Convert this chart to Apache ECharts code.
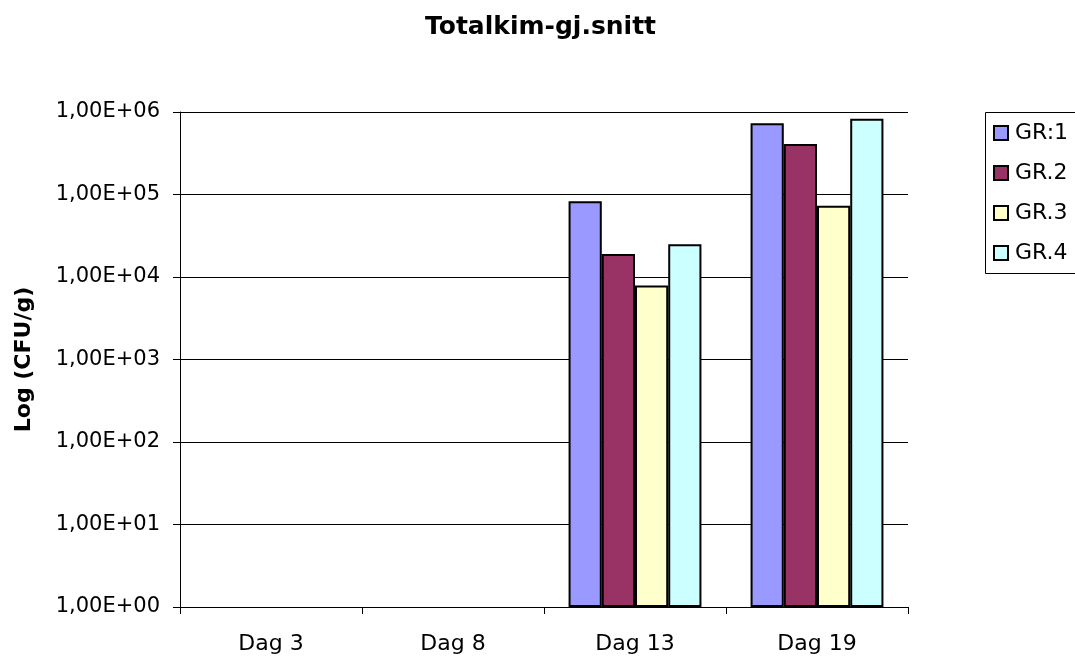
<!DOCTYPE html>
<html>
<head>
<meta charset="utf-8">
<script src="https://cdn.jsdelivr.net/npm/echarts@6/dist/echarts.min.js"></script>
<style>
  html, body { margin: 0; padding: 0; background: #fff; }
  #chart { width: 1075px; height: 656px; }
</style>
</head>
<body>
<div id="chart"></div>
<script>
// Sampling days on the x axis
const categories = ['Dag 3', 'Dag 8', 'Dag 13', 'Dag 19'];
// Mean total count (CFU/g) per group; no count on day 3 and 8
const gr1 = [null, null, 83000, 730000];
const gr2 = [null, null, 19000, 410000];
const gr3 = [null, null, 7900, 73000];
const gr4 = [null, null, 25000, 830000];
const seriesNames = ['GR:1', 'GR.2', 'GR.3', 'GR.4'];
const seriesColors = ['#9999FF', '#993366', '#FFFFCC', '#CCFFFF'];
const seriesData = [gr1, gr2, gr3, gr4];

// Excel-style scientific label, e.g. 1,00E+05
function sciLabel(v) {
  const e = Math.round(Math.log10(v));
  const sign = e < 0 ? '-' : '+';
  const abs = Math.abs(e);
  return '1,00E' + sign + (abs < 10 ? '0' : '') + abs;
}

const font = '"DejaVu Sans", Arial, sans-serif';
const chart = echarts.init(document.getElementById('chart'));
chart.setOption({
  animation: false,
  backgroundColor: '#ffffff',
  title: {
    text: 'Totalkim-gj.snitt',
    left: 425,
    top: 15,
    padding: 0,
    textStyle: { fontFamily: font, fontSize: 25, fontWeight: 'bold', color: '#000' }
  },
  // legend frame runs past the right edge of the canvas
  graphic: [{
    type: 'rect',
    shape: { x: 985.5, y: 112.5, width: 140, height: 161 },
    style: { fill: 'none', stroke: '#000', lineWidth: 1 },
    silent: true
  }],
  legend: {
    data: seriesNames,
    orient: 'vertical',
    left: 985,
    top: 112,
    icon: 'rect',
    itemWidth: 14,
    itemHeight: 14,
    itemGap: 18,
    padding: [10, 10, 10, 8],
    borderWidth: 0,
    textStyle: { fontFamily: font, fontSize: 22, color: '#000', lineHeight: 22, padding: [0, 0, 0, 2] }
  },
  grid: { left: 180, right: 167, top: 112, bottom: 49 },
  xAxis: {
    type: 'category',
    data: categories,
    axisLine: { lineStyle: { color: '#000', width: 1 } },
    axisTick: { show: true, length: 7, lineStyle: { color: '#000' } },
    axisLabel: { fontFamily: font, fontSize: 22, color: '#000', margin: 26 }
  },
  yAxis: {
    type: 'log',
    logBase: 10,
    min: 1,
    max: 1000000,
    name: 'Log (CFU/g)',
    nameLocation: 'middle',
    nameGap: 145,
    nameRotate: 90,
    nameTextStyle: { fontFamily: font, fontSize: 22, fontWeight: 'bold', color: '#000' },
    axisLine: { show: true, lineStyle: { color: '#000', width: 1 } },
    axisTick: { show: true, length: 7, inside: false, lineStyle: { color: '#000' } },
    splitLine: { show: true, lineStyle: { color: '#000', width: 1 } },
    minorTick: { show: false },
    axisLabel: { fontFamily: font, fontSize: 21, color: '#000', margin: 20, formatter: sciLabel }
  },
  series: seriesData.map((d, i) => ({
    name: seriesNames[i],
    type: 'bar',
    data: d,
    barGap: '0%',
    barCategoryGap: '27%',
    itemStyle: { color: seriesColors[i], borderColor: '#000', borderWidth: 2 }
  }))
});
</script>
</body>
</html>
